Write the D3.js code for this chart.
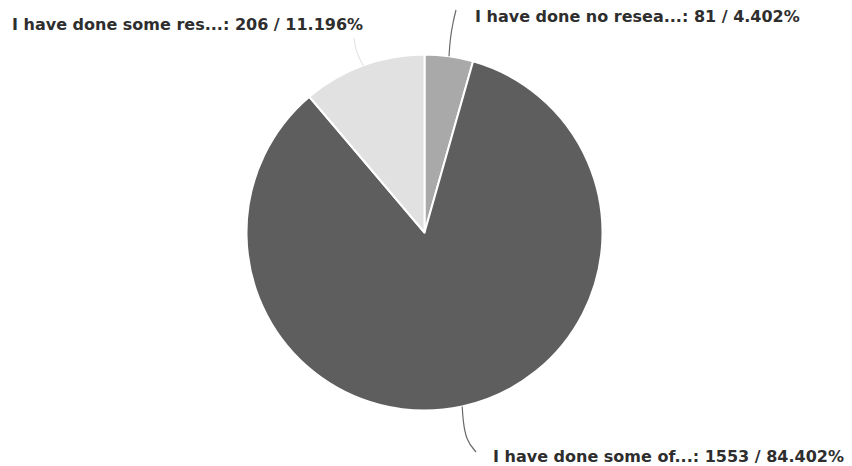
<!DOCTYPE html>
<html>
<head>
<meta charset="utf-8" />
<title>Pie</title>
<script src="https://cdn.jsdelivr.net/npm/d3@7"></script>
<style>
  body { margin: 0; background: #fff; }
  .lbl { font-family: "DejaVu Sans", Verdana, sans-serif; font-size: 16px; font-weight: bold; fill: #2e2e2e; }
</style>
</head>
<body>
<script>
  // answers, clockwise from 12 o'clock
  var labels = ["I have done no resea...", "I have done some of...", "I have done some res..."]
  var values = [81, 1553, 206]
  var colors = ["#a9a9a9", "#5e5e5e", "#e1e1e1"]

  var W = 852, H = 466
  var cx = 424.5, cy = 232.5, R = 178

  // where each label sits and where its leader line ends
  var labelPos = [
    { x: 475, y: 22, anchor: "start", line: [[450, 40], [453, 22], [456, 10]] },
    { x: 493, y: 462, anchor: "start", line: [[463, 420], [466, 440], [476, 452]] },
    { x: 12, y: 30, anchor: "start", line: [[356, 52], [354, 38]] }
  ]

  var svg = d3.select("body").append("svg")
    .attr("width", W).attr("height", H)

  var total = d3.sum(values)
  var pct = d3.format(".3f")

  var pie = d3.pie().sort(null).value(function (d) { return d })
  var arcs = pie(values)
  var arc = d3.arc().innerRadius(0).outerRadius(R)

  var g = svg.append("g").attr("transform", "translate(" + cx + "," + cy + ")")
  g.selectAll("path").data(arcs).enter().append("path")
    .attr("d", arc)
    .attr("fill", function (d, i) { return colors[i] })
    .attr("stroke", "#fff")
    .attr("stroke-width", 2)
    .attr("stroke-linejoin", "round")

  // leader lines: start at the rim, middle of each slice
  var line = d3.line().curve(d3.curveBasis)
  arcs.forEach(function (a, i) {
    var mid = (a.startAngle + a.endAngle) / 2
    var p0 = [cx + R * Math.sin(mid), cy - R * Math.cos(mid)]
    var pts = [p0].concat(labelPos[i].line)
    svg.append("path")
      .attr("d", line(pts))
      .attr("fill", "none")
      .attr("stroke", i == 2 ? "#e4e4e4" : "#6a6a6a")
      .attr("stroke-width", 1.2)
  })

  svg.selectAll("text.lbl").data(arcs).enter().append("text")
    .attr("class", "lbl")
    .attr("x", function (d, i) { return labelPos[i].x })
    .attr("y", function (d, i) { return labelPos[i].y })
    .attr("text-anchor", function (d, i) { return labelPos[i].anchor })
    .text(function (d, i) {
      return labels[i] + ": " + values[i] + " / " + pct(values[i] / total * 100) + "%"
    })
</script>
</body>
</html>
